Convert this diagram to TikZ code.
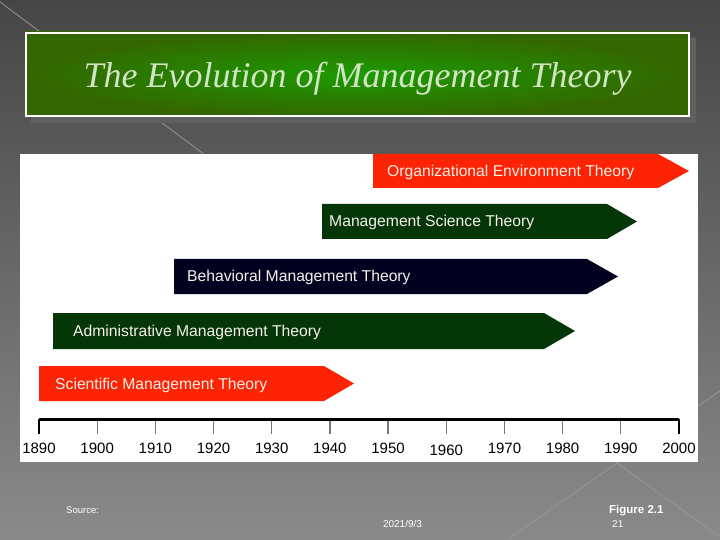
\documentclass[tikz,border=0pt]{standalone}
\usepackage{fontspec}
\setmainfont{Liberation Sans}
\newfontfamily\titlefont{Liberation Serif}
\definecolor{bgtop}{RGB}{70,70,70}
\definecolor{bgbot}{RGB}{138,138,138}
\definecolor{shadowgray}{RGB}{96,96,96}
\definecolor{ttlin}{RGB}{28,155,0}
\definecolor{ttlout}{RGB}{52,102,0}
\definecolor{ttltext}{RGB}{210,228,198}
\definecolor{barred}{RGB}{252,36,4}
\definecolor{bargreen}{RGB}{4,54,8}
\definecolor{barnavy}{RGB}{2,2,32}
\definecolor{bartext}{RGB}{246,240,232}
\definecolor{deco}{RGB}{150,150,150}
\definecolor{tickgray}{RGB}{120,120,120}
\begin{document}
\begin{tikzpicture}[x=1bp,y=-1bp,
  barlabel/.style={anchor=base west,text=bartext,inner sep=0pt,font=\fontsize{15.7bp}{18bp}\selectfont},
  axlabel/.style={anchor=center,text=black,inner sep=0pt,font=\fontsize{15bp}{18bp}\selectfont},
  tickline/.style={line width=1.3bp,draw=tickgray},
  foot/.style={text=white,inner sep=0pt},
  decoline/.style={draw=deco,line width=0.8bp}]
\useasboundingbox (0,0) rectangle (720,540);
% background
\shade[top color=bgtop,bottom color=bgbot] (0,0) rectangle (720,540);
\draw[decoline] (0,2) -- (205,155);
\draw[decoline] (507,540) -- (720,391);
\draw[decoline] (540,408) -- (720,537);
% title
\fill[shadowgray] (31,38) rectangle (696,123);
\shade[inner color=ttlin,outer color=ttlout] (25,32) rectangle (690,117);
\draw[white,line width=2bp] (26,33) rectangle (689,116);
\node[anchor=base,text=ttltext,inner sep=0pt,font=\fontsize{36bp}{40bp}\selectfont\titlefont\itshape] (title) at (357.5,88) {The Evolution of Management Theory};
% panel
\fill[white] (20,154) rectangle (698,462);
% bars
\fill[barred]   (373,154) -- (658,154) -- (689,171) -- (658,188) -- (373,188) -- cycle;
\node[barlabel] (oet) at (387,176.5) {Organizational Environment Theory};
\fill[bargreen] (322,204) -- (607,204) -- (637,221.5) -- (607,239) -- (322,239) -- cycle;
\node[barlabel] (mst) at (329,227) {Management Science Theory};
\fill[barnavy]  (174,259) -- (587,259) -- (618,276.5) -- (587,294) -- (174,294) -- cycle;
\node[barlabel] (bmt) at (187,282) {Behavioral Management Theory};
\fill[bargreen] (53,313) -- (544,313) -- (575,331) -- (544,349) -- (53,349) -- cycle;
\node[barlabel] (amt) at (73,336.5) {Administrative Management Theory};
\fill[barred]   (39,366) -- (324,366) -- (354,383.5) -- (324,401) -- (39,401) -- cycle;
\node[barlabel] (smt) at (55,389.5) {Scientific Management Theory};
% axis
\coordinate (a0) at (39,419);
\coordinate (a1) at (679,419);
\foreach \i/\yr in {1/1900,2/1910,3/1920,4/1930,5/1940,6/1950,7/1960,8/1970,9/1980,10/1990}{
  \coordinate (t\yr) at (39+\i*58.18,419);
  \draw[tickline] (t\yr) -- ++(0,15);
}
\draw[line width=1.3bp] (a0) -- ++(0,15);
\draw[line width=1.3bp] (a1) -- ++(0,15);
\draw[line width=3bp] (a0) -- (a1);
\foreach \i/\yr in {0/1890,1/1900,2/1910,3/1920,4/1930,5/1940,6/1950,8/1970,9/1980,10/1990,11/2000}{
  \node[axlabel] (l\yr) at (39+\i*58.18,448) {\yr};
}
\node[axlabel] (l1960) at (39+7*58.18,450) {1960};
% footer
\node[foot,anchor=west,font=\fontsize{9.5bp}{11bp}\selectfont] (src) at (66,510) {Source:};
\node[foot,anchor=center,font=\fontsize{10bp}{11bp}\selectfont] (date) at (402.5,524) {2021/9/3};
\node[foot,anchor=west,font=\fontsize{11.5bp}{13bp}\selectfont\bfseries] (fig) at (609,511) {Figure 2.1};
\node[foot,anchor=west,font=\fontsize{10bp}{12bp}\selectfont] (pg) at (612,524) {21};
\end{tikzpicture}
\end{document}
